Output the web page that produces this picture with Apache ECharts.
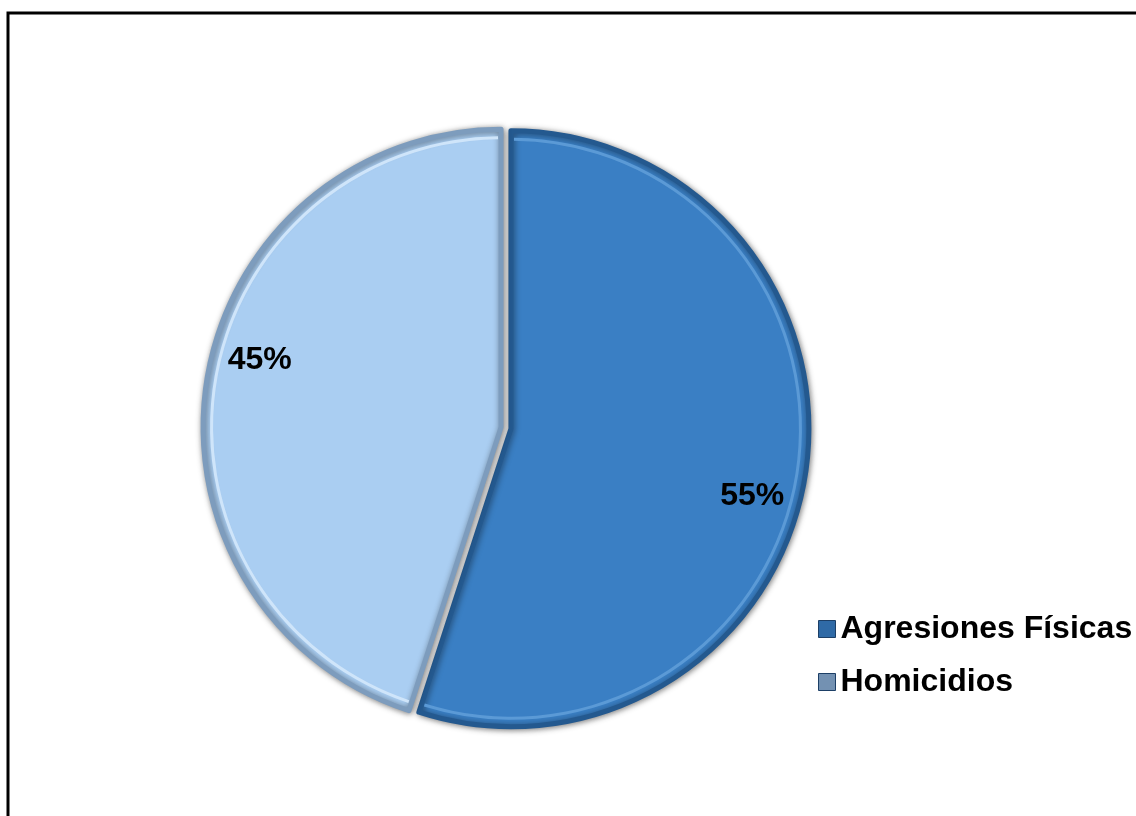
<!DOCTYPE html>
<html>
<head>
<meta charset="utf-8">
<script src="https://cdn.jsdelivr.net/npm/echarts@6/dist/echarts.min.js"></script>
<style>
  html, body { margin: 0; padding: 0; background: #fff; }
  #chart { width: 1136px; height: 816px; }
</style>
</head>
<body>
<div id="chart"></div>
<script>
// categories and shares (percent)
const categories = ["Agresiones Físicas", "Homicidios"];
const values = [55, 45];

const sliceColors = ["#3a7fc4", "#aacef2"];
const edgeColors = ["#24598f", "#7d9cbd"];
const glossColors = ["#5b9ad6", "#cfe5fa"];
const iconColors = ["#2f6aa6", "#7391b2"];

var myChart = echarts.init(document.getElementById("chart"));

var font = "Liberation Sans, Arial, sans-serif";
var pieCenter = [506, 428];

myChart.setOption({
  animation: false,
  textStyle: { fontFamily: font },
  graphic: [
    {
      type: "rect",
      shape: { x: 8, y: 13, width: 1140, height: 820 },
      style: { fill: "none", stroke: "#000", lineWidth: 3 },
      silent: true,
    },
  ],
  legend: {
    orient: "vertical",
    left: 818,
    top: 613,
    padding: 0,
    itemWidth: 17,
    itemHeight: 17,
    itemGap: 21,
    icon: "rect",
    selectedMode: false,
    textStyle: {
      fontSize: 32,
      fontWeight: "bold",
      color: "#000",
      fontFamily: font,
    },
    data: categories.map((name, i) => ({
      name: name,
      itemStyle: { color: iconColors[i], borderColor: "#1d3f66", borderWidth: 1 },
    })),
  },
  series: [
    {
      // the slices
      type: "pie",
      center: pieCenter,
      radius: 298,
      startAngle: 90,
      selectedMode: "multiple",
      selectedOffset: 5,
      silent: true,
      emphasis: { disabled: true },
      itemStyle: {
        borderWidth: 5,
        shadowBlur: 6,
        shadowColor: "rgba(0,0,0,0.45)",
        shadowOffsetX: 1,
        shadowOffsetY: 1,
      },
      label: { show: false },
      labelLine: { show: false },
      data: categories.map((name, i) => ({
        name: name,
        value: values[i],
        selected: true,
        itemStyle: { color: sliceColors[i], borderColor: edgeColors[i] },
      })),
    },
    {
      // thin light rim inside the bevel
      type: "pie",
      center: pieCenter,
      radius: [288, 291],
      startAngle: 90,
      selectedMode: "multiple",
      selectedOffset: 5,
      silent: true,
      emphasis: { disabled: true },
      padAngle: 1.2,
      label: { show: false },
      labelLine: { show: false },
      data: categories.map((name, i) => ({
        name: name,
        value: values[i],
        selected: true,
        itemStyle: { color: glossColors[i] },
      })),
    },
    {
      // transparent ring that only carries the percentage labels near the rim
      type: "pie",
      center: pieCenter,
      radius: [205, 290],
      startAngle: 83.5,
      selectedMode: "multiple",
      selectedOffset: 5,
      silent: true,
      emphasis: { disabled: true },
      itemStyle: { color: "rgba(0,0,0,0)" },
      label: {
        show: true,
        position: "inside",
        formatter: "{c}%",
        fontSize: 32,
        fontWeight: "bold",
        color: "#000",
        fontFamily: font,
      },
      labelLine: { show: false },
      data: categories.map((name, i) => ({
        name: name,
        value: values[i],
        selected: true,
      })),
    },
  ],
});
</script>
</body>
</html>
